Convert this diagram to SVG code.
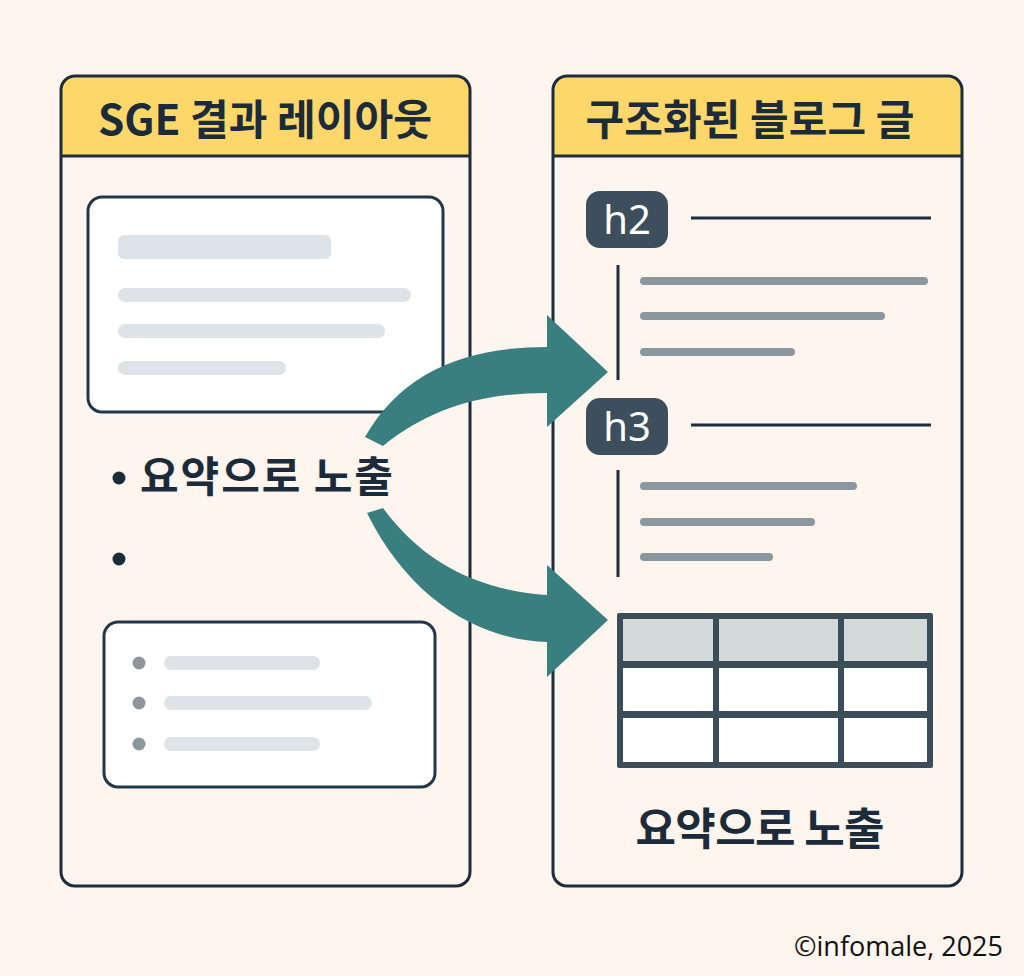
<svg xmlns="http://www.w3.org/2000/svg" width="1024" height="976" viewBox="0 0 1024 976">
<style>
.panel{fill:none;stroke:#1e2d3b;stroke-width:3}
.hdr{fill:#fdd76a}
.ttl{font-family:"Noto Sans CJK KR","Noto Sans",sans-serif;font-weight:700;fill:#1c2b3a}
.card{fill:#ffffff;stroke:#22384a;stroke-width:3}
.bar{fill:#dde3e7}
.gbar{fill:#8a979f}
.dot{fill:#8f969b}
.badge{fill:#3d4f5c}
.btxt{font-family:"Noto Sans",sans-serif;font-size:40px;fill:#ffffff}
.rule{stroke:#1e2d3b;stroke-width:3}
.arrow{fill:#3a7f80}
</style>
<rect width="1024" height="976" fill="#fdf5ee"/>

<g id="left-panel">
<path class="hdr" d="M61 156 V90 Q61 76 75 76 H456 Q470 76 470 90 V156 Z"/>
<rect class="panel" x="61" y="76" width="409" height="810" rx="14"/>
<line x1="61" y1="156" x2="470" y2="156" class="rule"/>
<text class="ttl" x="265" y="135" font-size="42" text-anchor="middle" textLength="334" lengthAdjust="spacingAndGlyphs">SGE 결과 레이아웃</text>
</g>

<g id="left-card-1">
<rect class="card" x="88" y="197" width="355" height="215" rx="14"/>
<rect class="bar" x="118" y="235" width="213" height="24" rx="6"/>
<rect class="bar" x="118" y="288" width="293" height="14" rx="7"/>
<rect class="bar" x="118" y="324" width="267" height="14" rx="7"/>
<rect class="bar" x="118" y="361" width="168" height="14" rx="7"/>
</g>

<g id="left-bullets">
<circle cx="119" cy="478" r="6.5" fill="#1c2b3a"/>
<text class="ttl" x="140" y="492" font-size="42" textLength="253" lengthAdjust="spacing">요약으로 노출</text>
<circle cx="119" cy="559" r="6.5" fill="#1c2b3a"/>
</g>

<g id="left-card-2">
<rect class="card" x="104" y="622" width="331" height="165" rx="14"/>
<circle class="dot" cx="139" cy="663" r="6.5"/>
<rect class="bar" x="164" y="656" width="156" height="14" rx="7"/>
<circle class="dot" cx="139" cy="703" r="6.5"/>
<rect class="bar" x="164" y="696" width="208" height="14" rx="7"/>
<circle class="dot" cx="139" cy="744" r="6.5"/>
<rect class="bar" x="164" y="737" width="156" height="14" rx="7"/>
</g>

<g id="right-panel">
<path class="hdr" d="M553 156 V90 Q553 76 567 76 H948 Q962 76 962 90 V156 Z"/>
<rect class="panel" x="553" y="76" width="409" height="810" rx="14"/>
<line x1="553" y1="156" x2="962" y2="156" class="rule"/>
<text class="ttl" x="750" y="135" font-size="42" text-anchor="middle" textLength="329" lengthAdjust="spacing">구조화된 블로그 글</text>
</g>

<g id="h2-section">
<rect class="badge" x="586" y="191" width="82" height="57" rx="14"/>
<text class="btxt" x="627" y="234" text-anchor="middle">h2</text>
<line x1="691" y1="218" x2="931" y2="218" class="rule"/>
<line x1="618" y1="265" x2="618" y2="380" class="rule"/>
<rect class="gbar" x="640" y="277" width="288" height="8" rx="4"/>
<rect class="gbar" x="640" y="312" width="245" height="8" rx="4"/>
<rect class="gbar" x="640" y="348" width="155" height="8" rx="4"/>
</g>

<g id="h3-section">
<rect class="badge" x="586" y="398" width="82" height="57" rx="14"/>
<text class="btxt" x="627" y="441" text-anchor="middle">h3</text>
<line x1="691" y1="425" x2="931" y2="425" class="rule"/>
<line x1="618" y1="470" x2="618" y2="577" class="rule"/>
<rect class="gbar" x="640" y="482" width="217" height="8" rx="4"/>
<rect class="gbar" x="640" y="518" width="175" height="8" rx="4"/>
<rect class="gbar" x="640" y="553" width="133" height="8" rx="4"/>
</g>

<g id="table">
<rect x="617" y="613" width="316" height="155" fill="#3a4d58" rx="2"/>
<rect x="623" y="619" width="90" height="42" fill="#d3d9d8"/>
<rect x="719" y="619" width="119" height="42" fill="#d3d9d8"/>
<rect x="844" y="619" width="83" height="42" fill="#d3d9d8"/>
<rect x="623" y="668" width="90" height="43" fill="#ffffff"/>
<rect x="719" y="668" width="119" height="43" fill="#ffffff"/>
<rect x="844" y="668" width="83" height="43" fill="#ffffff"/>
<rect x="623" y="718" width="90" height="44" fill="#ffffff"/>
<rect x="719" y="718" width="119" height="44" fill="#ffffff"/>
<rect x="844" y="718" width="83" height="44" fill="#ffffff"/>
</g>

<g id="right-caption">
<text class="ttl" x="760" y="845" font-size="44" text-anchor="middle" textLength="249" lengthAdjust="spacing">요약으로 노출</text>
</g>

<g id="connectors">
<path class="arrow" d="M365 437 C402 372 465 347 547 347 L547 315 L608 372 L547 427 L547 393 C478 393 428 410 383 446 Z"/>
<path class="arrow" d="M367 513 C410 600 480 640 547 642 L547 677 L608 620 L547 565 L547 595 C480 590 425 565 383 508 Z"/>
</g>

<text x="1003" y="956" font-family="'Open Sans','Noto Sans',sans-serif" font-size="27" fill="#111" text-anchor="end">©infomale, 2025</text>
</svg>
